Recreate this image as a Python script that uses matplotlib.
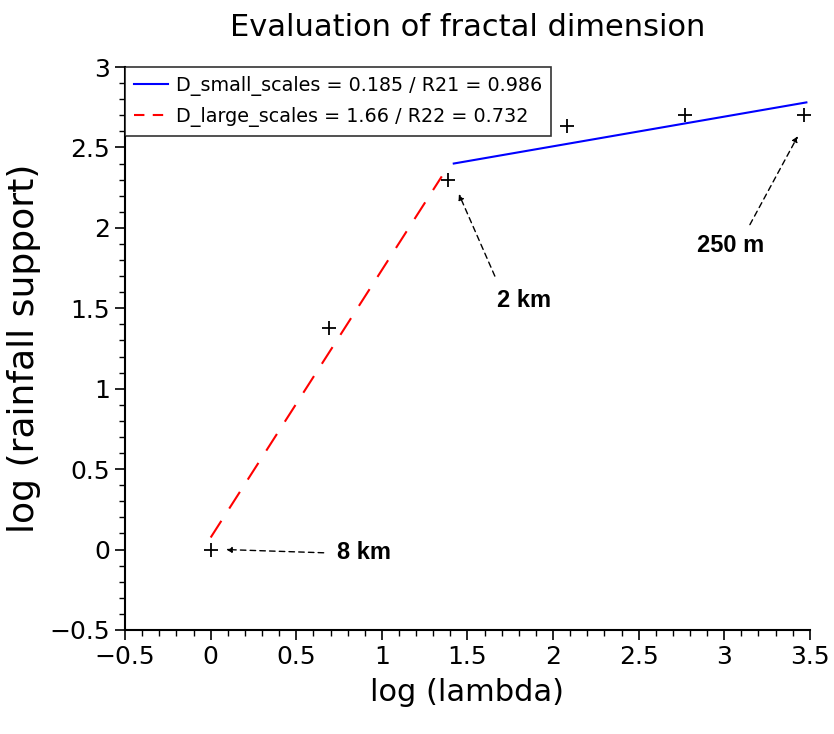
import numpy as np
import matplotlib.pyplot as plt
from matplotlib.lines import Line2D
from matplotlib.ticker import MultipleLocator

# data
log_lambda = [0.0, 0.693, 1.386, 2.079, 2.773, 3.466]
log_support = [0.0, 1.38, 2.30, 2.635, 2.70, 2.70]

# fitted lines
small_x = [1.42, 3.48]
small_y = [2.40, 2.78]
large_x = [0.0, 1.35]
large_y = [0.075, 2.32]

small_label = 'D_small_scales = 0.185 / R21 = 0.986'
large_label = 'D_large_scales = 1.66 / R22 = 0.732'

# annotations: text, arrow head, arrow tail, text position
notes = [('8 km', (0.09, 0.0), (0.66, -0.02), (0.74, -0.02)),
         ('2 km', (1.45, 2.21), (1.66, 1.70), (1.67, 1.55)),
         ('250 m', (3.43, 2.57), (3.15, 2.02), (2.84, 1.89))]

plt.rcParams['font.family'] = ['DejaVu Sans']

fig = plt.figure(figsize=(8.34, 7.34), dpi=100)
ax = fig.add_axes([0.150, 0.1417, 0.821, 0.767])

ax.plot(small_x, small_y, color='blue', lw=1.5)
ax.plot(large_x, large_y, color='red', lw=1.5, dashes=(9.5, 7))
ax.plot(log_lambda, log_support, ls='none', marker='+', color='black', ms=10, mew=1.3)

for txt, head, tail, pos in notes:
    ax.annotate('', xy=head, xytext=tail,
                arrowprops=dict(arrowstyle='-|>', color='black', ls=(0, (4, 3)),
                                lw=1.0, mutation_scale=8, shrinkA=0, shrinkB=0))
    ax.text(pos[0], pos[1], txt, fontsize=17, fontweight='bold',
            family='Liberation Sans', ha='left', va='center')

ax.set_xlim(-0.5, 3.5)
ax.set_ylim(-0.5, 3)
ax.xaxis.set_major_locator(MultipleLocator(0.5))
ax.yaxis.set_major_locator(MultipleLocator(0.5))
ax.xaxis.set_minor_locator(MultipleLocator(0.1))
ax.yaxis.set_minor_locator(MultipleLocator(0.1))
ax.xaxis.set_major_formatter(plt.FuncFormatter(lambda v, p: ('%g' % v).replace('-', '\u2212')))
ax.yaxis.set_major_formatter(plt.FuncFormatter(lambda v, p: ('%g' % v).replace('-', '\u2212')))
ax.tick_params(which='major', direction='out', length=7, width=1.2, labelsize=18, pad=4)
ax.tick_params(which='minor', direction='out', length=4, width=1.0)
ax.spines['top'].set_visible(False)
ax.spines['right'].set_visible(False)
ax.spines['left'].set_linewidth(1.5)
ax.spines['bottom'].set_linewidth(1.5)

ax.set_xlabel('log (lambda)', fontsize=22, labelpad=6)
ax.set_ylabel('log (rainfall support)', fontsize=26, labelpad=6)
ax.set_title('Evaluation of fractal dimension', fontsize=22, pad=22)

# legend handles (shorter dashes so two dashes show, as in the reference)
handles = [Line2D([], [], color='blue', lw=1.5),
           Line2D([], [], color='red', lw=1.5, dashes=(5, 4))]
leg = ax.legend(handles, [small_label, large_label], loc='upper left', fontsize=13.8,
                frameon=True, fancybox=False, edgecolor='black', handlelength=1.8,
                handletextpad=0.4, labelspacing=0.6, borderaxespad=0.0, borderpad=0.45)
leg.get_frame().set_linewidth(1.2)

fig.savefig('out.png', dpi=100)
